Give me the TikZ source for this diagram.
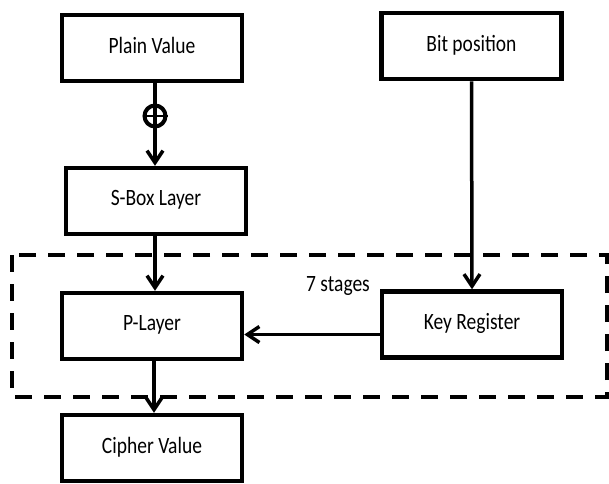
\documentclass[tikz,border=0pt]{standalone}
\usepackage{fontspec}
\setmainfont{Carlito}
\usetikzlibrary{arrows.meta}
\newcommand{\boxtext}[1]{\raisebox{6pt}{\scalebox{1}[1.2]{#1}}}
\begin{document}
\begin{tikzpicture}[x=1pt,y=-1pt,
  blockbox/.style={draw=black,line width=4.5pt,minimum width=180pt,minimum height=66pt,
    inner sep=0pt,font=\fontsize{19.5pt}{22pt}\selectfont,text=black},
  flow/.style={line width=3.5pt,-{Straight Barb[length=12pt,width=16pt,line width=3.5pt]}},
  plainline/.style={line width=3.5pt},
  stagebox/.style={line width=4.5pt,dash pattern=on 17pt off 12pt}]
  \useasboundingbox[fill=white] (0,0) rectangle (609,483);

  % blocks
  \node[blockbox] (pv)  at (152,48)    {\boxtext{Plain Value}};
  \node[blockbox] (bp)  at (471.5,46)  {\boxtext{Bit position}};
  \node[blockbox] (sb)  at (156,201)   {\boxtext{S-Box Layer}};
  \node[blockbox] (pl)  at (152,326)   {\boxtext{P-Layer}};
  \node[blockbox] (kr)  at (472,324.5) {\boxtext{Key Register}};
  \node[blockbox] (cv)  at (152,448)   {\boxtext{Cipher Value}};

  % xor operator
  \node[circle,draw=black,line width=4pt,minimum size=21pt,inner sep=0pt] (xor) at (155,116) {};
  \draw[line width=2.5pt] (xor.west) -- (xor.east);

  % 7-stage loop region
  \draw[stagebox] (12,255) rectangle (607,397);
  \node[font=\fontsize{19.5pt}{22pt}\selectfont,text=black] (stg) at (338,286) {\scalebox{1}[1.2]{7 stages}};

  % connectors
  \draw[plainline] (xor |- pv.south) -- (xor.center);
  \draw[flow] (xor.center) -- (xor |- sb.north);
  \draw[flow] (sb.south -| 155,0) -- (pl.north -| 155,0);
  \draw[flow] (pl.south -| 154,0) -- (cv.north -| 154,0);
  \draw[flow] (bp.south) -- (kr.north);
  \draw[flow] ([yshift=-10pt]kr.west) -- ([yshift=-10pt]kr.west -| pl.east);
\end{tikzpicture}
\end{document}
